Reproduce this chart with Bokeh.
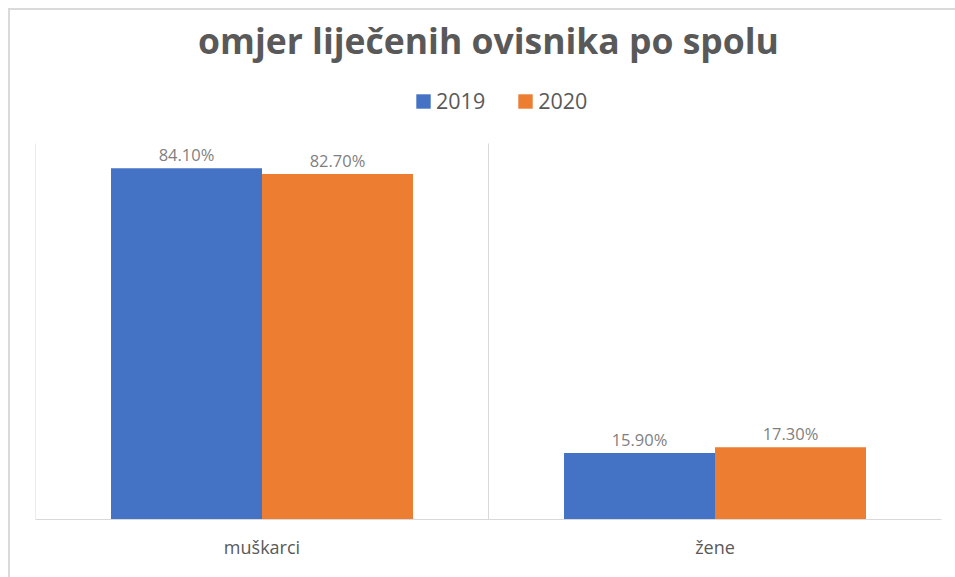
from bokeh.plotting import figure
from bokeh.models import (ColumnDataSource, FactorRange, Range1d, Legend, LegendItem,
                          LabelSet, Label)
from bokeh.core.properties import value
from bokeh.transform import dodge
from bokeh.embed import file_html
from bokeh.resources import INLINE

categories = ["muškarci", "žene"]
years = ["2019", "2020"]
v2019 = [84.1, 15.9]
v2020 = [82.7, 17.3]
colors = ["#4472C4", "#ED7D31"]
title_text = "omjer liječenih ovisnika po spolu"

FONT = "Open Sans"
TXT = "#595959"
GRID = "#D9D9D9"

# value axis: 0..90 in the plotting area; extra headroom holds title and legend
y_axis_max = 90
px_per_unit = (519 - 143) / y_axis_max
y_view_max = (519 - 11) / px_per_unit
title_y = (519 - 39) / px_per_unit

src = ColumnDataSource(dict(
    cat=categories,
    v2019=v2019,
    v2020=v2020,
    l2019=[f"{v:.2f}%" for v in v2019],
    l2020=[f"{v:.2f}%" for v in v2020],
))

p = figure(width=955, height=577, x_range=FactorRange(*categories, range_padding=0),
           y_range=Range1d(0, y_view_max), output_backend="svg", toolbar_location=None,
           min_border_left=35, min_border_right=14, min_border_bottom=58,
           min_border_top=11)
p.title = None
p.border_fill_alpha = 0
p.styles = {"background": "linear-gradient(#DADADA,#DADADA) 8px 8px / 100% 2px no-repeat, "
                          "linear-gradient(#DADADA,#DADADA) 8px 8px / 2px 100% no-repeat, "
                          "#FFFFFF"}

# category separators (vertical gridlines) spanning the value axis
p.segment(x0=[0, 1], y0=[0, 0], x1=[0, 1], y1=[y_axis_max, y_axis_max],
          line_color=GRID, line_width=1)

r1 = p.vbar(x=dodge("cat", -1/6, range=p.x_range), top="v2019", width=1/3,
            source=src, fill_color=colors[0], line_color=None)
r2 = p.vbar(x=dodge("cat", 1/6, range=p.x_range), top="v2020", width=1/3,
            source=src, fill_color=colors[1], line_color=None)

for col, off in (("l2019", -1/6), ("l2020", 1/6)):
    ycol = "v" + col[1:]
    p.add_layout(LabelSet(x=dodge("cat", off, range=p.x_range), y=ycol, text=col,
                          source=src, text_align="center", text_baseline="alphabetic",
                          y_offset=7, text_font=value(FONT), text_font_size="16.5px",
                          text_color="#7F7F7F"))

p.xgrid.grid_line_color = None
p.ygrid.grid_line_color = None
p.yaxis.visible = False
p.outline_line_color = None
p.xaxis.axis_line_color = GRID
p.xaxis.major_tick_line_color = None
p.xaxis.minor_tick_line_color = None
p.xaxis.major_tick_out = 0
p.xaxis.major_tick_in = 0
p.xaxis.major_label_text_font = FONT
p.xaxis.major_label_text_font_size = "18px"
p.xaxis.major_label_text_color = TXT
p.xaxis.major_label_standoff = 15

legend = Legend(items=[LegendItem(label=years[0], renderers=[r1]),
                       LegendItem(label=years[1], renderers=[r2])],
                orientation="horizontal", location=(379, 404),
                label_text_font=FONT, label_text_font_size="21.5px",
                label_text_color=TXT, glyph_width=18, glyph_height=18,
                label_standoff=4, spacing=31, border_line_color=None,
                background_fill_alpha=0, margin=0, padding=6)
p.add_layout(legend)

p.add_layout(Label(x=1, y=title_y, text=title_text, text_align="center",
                   text_baseline="alphabetic", text_font=FONT,
                   text_font_size="35.5px", text_font_style="bold", text_color=TXT))

open("out.html", "w").write(file_html(p, INLINE))
